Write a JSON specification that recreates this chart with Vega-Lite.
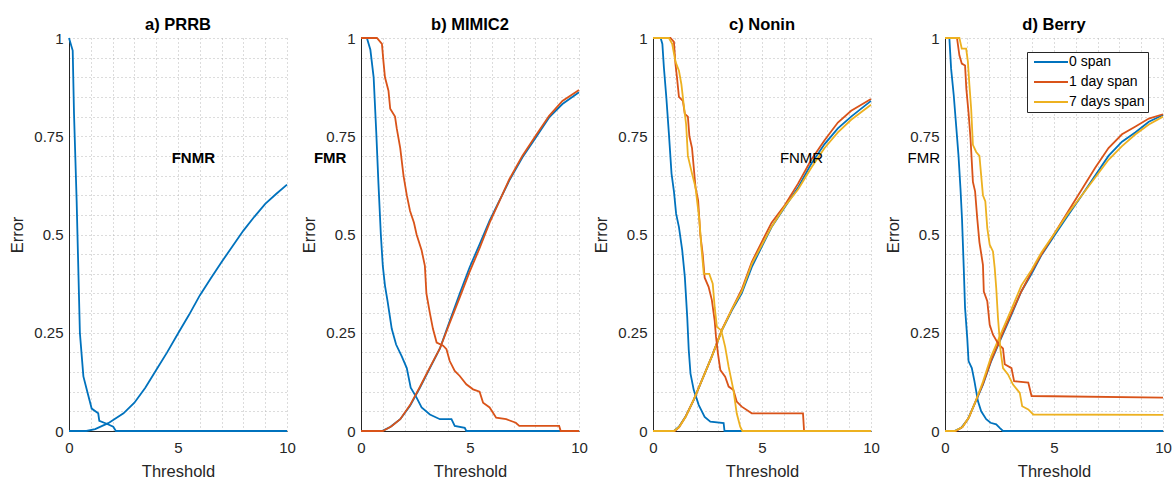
{
"$schema": "https://vega.github.io/schema/vega-lite/v6.json",
"padding": {"left": 9, "top": 16, "right": 5, "bottom": 1},
"background": "#ffffff",
"config": {
  "view": {"stroke": null},
  "axis": {"labelFont": "Liberation Sans", "labelFontSize": 15, "labelColor": "#262626", "titleFont": "Liberation Sans", "titleFontSize": 16.5, "titleFontWeight": "normal", "titleColor": "#262626", "domainColor": "#262626", "domainWidth": 1, "ticks": false, "gridColor": "#b8b8b8", "gridDash": [1, 3], "gridWidth": 1, "labelFlush": false, "labelOverlap": false},
  "title": {"font": "Liberation Sans", "fontSize": 16.5, "fontWeight": "bold", "color": "#000000", "offset": -2, "anchor": "middle"}
},
"datasets": {
"a": [
{"s":"0 span","c":"N","t":0,"e":1},{"s":"0 span","c":"N","t":0.17,"e":0.968},{"s":"0 span","c":"N","t":0.23,"e":0.807},{"s":"0 span","c":"N","t":0.35,"e":0.587},{"s":"0 span","c":"N","t":0.5,"e":0.249},{"s":"0 span","c":"N","t":0.66,"e":0.139},{"s":"0 span","c":"N","t":0.84,"e":0.1},{"s":"0 span","c":"N","t":1.04,"e":0.057},{"s":"0 span","c":"N","t":1.34,"e":0.045},{"s":"0 span","c":"N","t":1.39,"e":0.026},{"s":"0 span","c":"N","t":1.7,"e":0.019},{"s":"0 span","c":"N","t":2.03,"e":0.011},{"s":"0 span","c":"N","t":2.15,"e":0},{"s":"0 span","c":"N","t":10,"e":0},
{"s":"0 span","c":"M","t":0,"e":0},{"s":"0 span","c":"M","t":0.8,"e":0},{"s":"0 span","c":"M","t":1.2,"e":0.005},{"s":"0 span","c":"M","t":1.8,"e":0.02},{"s":"0 span","c":"M","t":2.5,"e":0.045},{"s":"0 span","c":"M","t":3,"e":0.072},{"s":"0 span","c":"M","t":3.5,"e":0.11},{"s":"0 span","c":"M","t":4,"e":0.155},{"s":"0 span","c":"M","t":4.5,"e":0.2},{"s":"0 span","c":"M","t":5,"e":0.248},{"s":"0 span","c":"M","t":5.5,"e":0.295},{"s":"0 span","c":"M","t":6,"e":0.345},{"s":"0 span","c":"M","t":6.5,"e":0.388},{"s":"0 span","c":"M","t":7,"e":0.43},{"s":"0 span","c":"M","t":7.5,"e":0.47},{"s":"0 span","c":"M","t":8,"e":0.51},{"s":"0 span","c":"M","t":8.5,"e":0.545},{"s":"0 span","c":"M","t":9,"e":0.578},{"s":"0 span","c":"M","t":9.5,"e":0.603},{"s":"0 span","c":"M","t":10,"e":0.627}
],
"b": [
{"s":"0 span","c":"N","t":0,"e":1},{"s":"0 span","c":"N","t":0.27,"e":1},{"s":"0 span","c":"N","t":0.43,"e":0.97},{"s":"0 span","c":"N","t":0.58,"e":0.9},{"s":"0 span","c":"N","t":0.7,"e":0.76},{"s":"0 span","c":"N","t":0.8,"e":0.63},{"s":"0 span","c":"N","t":0.91,"e":0.5},{"s":"0 span","c":"N","t":1.0,"e":0.42},{"s":"0 span","c":"N","t":1.1,"e":0.37},{"s":"0 span","c":"N","t":1.22,"e":0.33},{"s":"0 span","c":"N","t":1.41,"e":0.26},{"s":"0 span","c":"N","t":1.61,"e":0.22},{"s":"0 span","c":"N","t":1.87,"e":0.19},{"s":"0 span","c":"N","t":2.1,"e":0.16},{"s":"0 span","c":"N","t":2.28,"e":0.11},{"s":"0 span","c":"N","t":2.55,"e":0.085},{"s":"0 span","c":"N","t":2.78,"e":0.06},{"s":"0 span","c":"N","t":3.16,"e":0.042},{"s":"0 span","c":"N","t":3.62,"e":0.03},{"s":"0 span","c":"N","t":4.15,"e":0.03},{"s":"0 span","c":"N","t":4.3,"e":0.013},{"s":"0 span","c":"N","t":4.76,"e":0.008},{"s":"0 span","c":"N","t":4.83,"e":0},{"s":"0 span","c":"N","t":10,"e":0},
{"s":"0 span","c":"M","t":0,"e":0},{"s":"0 span","c":"M","t":0.96,"e":0},{"s":"0 span","c":"M","t":1.34,"e":0.01},{"s":"0 span","c":"M","t":1.8,"e":0.03},{"s":"0 span","c":"M","t":2.25,"e":0.064},{"s":"0 span","c":"M","t":2.7,"e":0.11},{"s":"0 span","c":"M","t":3.16,"e":0.16},{"s":"0 span","c":"M","t":3.62,"e":0.21},{"s":"0 span","c":"M","t":4.07,"e":0.28},{"s":"0 span","c":"M","t":4.53,"e":0.35},{"s":"0 span","c":"M","t":4.98,"e":0.416},{"s":"0 span","c":"M","t":5.44,"e":0.475},{"s":"0 span","c":"M","t":5.9,"e":0.535},{"s":"0 span","c":"M","t":6.35,"e":0.586},{"s":"0 span","c":"M","t":6.8,"e":0.637},{"s":"0 span","c":"M","t":7.4,"e":0.696},{"s":"0 span","c":"M","t":8.02,"e":0.747},{"s":"0 span","c":"M","t":8.63,"e":0.798},{"s":"0 span","c":"M","t":9.24,"e":0.832},{"s":"0 span","c":"M","t":10,"e":0.862},
{"s":"1 day span","c":"M","t":0,"e":0},{"s":"1 day span","c":"M","t":1.0,"e":0},{"s":"1 day span","c":"M","t":1.4,"e":0.012},{"s":"1 day span","c":"M","t":1.8,"e":0.03},{"s":"1 day span","c":"M","t":2.25,"e":0.066},{"s":"1 day span","c":"M","t":2.7,"e":0.112},{"s":"1 day span","c":"M","t":3.16,"e":0.162},{"s":"1 day span","c":"M","t":3.62,"e":0.21},{"s":"1 day span","c":"M","t":4.07,"e":0.275},{"s":"1 day span","c":"M","t":4.53,"e":0.34},{"s":"1 day span","c":"M","t":4.98,"e":0.405},{"s":"1 day span","c":"M","t":5.44,"e":0.465},{"s":"1 day span","c":"M","t":5.9,"e":0.53},{"s":"1 day span","c":"M","t":6.35,"e":0.585},{"s":"1 day span","c":"M","t":6.8,"e":0.64},{"s":"1 day span","c":"M","t":7.4,"e":0.7},{"s":"1 day span","c":"M","t":8.02,"e":0.752},{"s":"1 day span","c":"M","t":8.63,"e":0.802},{"s":"1 day span","c":"M","t":9.24,"e":0.84},{"s":"1 day span","c":"M","t":10,"e":0.868},
{"s":"1 day span","c":"N","t":0,"e":1},{"s":"1 day span","c":"N","t":0.73,"e":1},{"s":"1 day span","c":"N","t":0.96,"e":0.985},{"s":"1 day span","c":"N","t":1.03,"e":0.94},{"s":"1 day span","c":"N","t":1.1,"e":0.9},{"s":"1 day span","c":"N","t":1.26,"e":0.866},{"s":"1 day span","c":"N","t":1.34,"e":0.82},{"s":"1 day span","c":"N","t":1.56,"e":0.8},{"s":"1 day span","c":"N","t":1.64,"e":0.77},{"s":"1 day span","c":"N","t":1.8,"e":0.72},{"s":"1 day span","c":"N","t":1.95,"e":0.65},{"s":"1 day span","c":"N","t":2.1,"e":0.6},{"s":"1 day span","c":"N","t":2.25,"e":0.56},{"s":"1 day span","c":"N","t":2.43,"e":0.53},{"s":"1 day span","c":"N","t":2.55,"e":0.5},{"s":"1 day span","c":"N","t":2.78,"e":0.46},{"s":"1 day span","c":"N","t":2.93,"e":0.42},{"s":"1 day span","c":"N","t":3.0,"e":0.35},{"s":"1 day span","c":"N","t":3.16,"e":0.3},{"s":"1 day span","c":"N","t":3.3,"e":0.26},{"s":"1 day span","c":"N","t":3.47,"e":0.225},{"s":"1 day span","c":"N","t":3.77,"e":0.217},{"s":"1 day span","c":"N","t":3.92,"e":0.208},{"s":"1 day span","c":"N","t":4.07,"e":0.178},{"s":"1 day span","c":"N","t":4.3,"e":0.153},{"s":"1 day span","c":"N","t":4.53,"e":0.14},{"s":"1 day span","c":"N","t":4.83,"e":0.119},{"s":"1 day span","c":"N","t":5.14,"e":0.106},{"s":"1 day span","c":"N","t":5.44,"e":0.1},{"s":"1 day span","c":"N","t":5.6,"e":0.072},{"s":"1 day span","c":"N","t":5.9,"e":0.06},{"s":"1 day span","c":"N","t":6.2,"e":0.034},{"s":"1 day span","c":"N","t":6.66,"e":0.03},{"s":"1 day span","c":"N","t":7.1,"e":0.021},{"s":"1 day span","c":"N","t":7.26,"e":0.013},{"s":"1 day span","c":"N","t":9.09,"e":0.013},{"s":"1 day span","c":"N","t":9.16,"e":0},{"s":"1 day span","c":"N","t":10,"e":0}
],
"c": [
{"s":"0 span","c":"N","t":0,"e":1},{"s":"0 span","c":"N","t":0.35,"e":1},{"s":"0 span","c":"N","t":0.43,"e":0.985},{"s":"0 span","c":"N","t":0.5,"e":0.925},{"s":"0 span","c":"N","t":0.61,"e":0.85},{"s":"0 span","c":"N","t":0.73,"e":0.756},{"s":"0 span","c":"N","t":0.85,"e":0.655},{"s":"0 span","c":"N","t":0.96,"e":0.61},{"s":"0 span","c":"N","t":1.06,"e":0.553},{"s":"0 span","c":"N","t":1.19,"e":0.519},{"s":"0 span","c":"N","t":1.34,"e":0.46},{"s":"0 span","c":"N","t":1.46,"e":0.392},{"s":"0 span","c":"N","t":1.57,"e":0.29},{"s":"0 span","c":"N","t":1.64,"e":0.206},{"s":"0 span","c":"N","t":1.72,"e":0.146},{"s":"0 span","c":"N","t":1.87,"e":0.104},{"s":"0 span","c":"N","t":2.1,"e":0.066},{"s":"0 span","c":"N","t":2.37,"e":0.036},{"s":"0 span","c":"N","t":2.63,"e":0.024},{"s":"0 span","c":"N","t":3.24,"e":0.02},{"s":"0 span","c":"N","t":3.28,"e":0},{"s":"0 span","c":"N","t":10,"e":0},
{"s":"0 span","c":"M","t":0,"e":0},{"s":"0 span","c":"M","t":0.96,"e":0},{"s":"0 span","c":"M","t":1.19,"e":0.011},{"s":"0 span","c":"M","t":1.49,"e":0.036},{"s":"0 span","c":"M","t":1.87,"e":0.079},{"s":"0 span","c":"M","t":2.25,"e":0.13},{"s":"0 span","c":"M","t":2.7,"e":0.19},{"s":"0 span","c":"M","t":3.16,"e":0.256},{"s":"0 span","c":"M","t":3.62,"e":0.307},{"s":"0 span","c":"M","t":4.07,"e":0.35},{"s":"0 span","c":"M","t":4.53,"e":0.417},{"s":"0 span","c":"M","t":4.98,"e":0.468},{"s":"0 span","c":"M","t":5.44,"e":0.519},{"s":"0 span","c":"M","t":6.05,"e":0.57},{"s":"0 span","c":"M","t":6.66,"e":0.62},{"s":"0 span","c":"M","t":7.26,"e":0.68},{"s":"0 span","c":"M","t":7.87,"e":0.73},{"s":"0 span","c":"M","t":8.48,"e":0.77},{"s":"0 span","c":"M","t":9.09,"e":0.8},{"s":"0 span","c":"M","t":10,"e":0.84},
{"s":"1 day span","c":"M","t":0,"e":0},{"s":"1 day span","c":"M","t":1.0,"e":0},{"s":"1 day span","c":"M","t":1.2,"e":0.01},{"s":"1 day span","c":"M","t":1.5,"e":0.037},{"s":"1 day span","c":"M","t":1.87,"e":0.08},{"s":"1 day span","c":"M","t":2.25,"e":0.13},{"s":"1 day span","c":"M","t":2.7,"e":0.19},{"s":"1 day span","c":"M","t":3.16,"e":0.258},{"s":"1 day span","c":"M","t":3.62,"e":0.31},{"s":"1 day span","c":"M","t":4.07,"e":0.36},{"s":"1 day span","c":"M","t":4.53,"e":0.43},{"s":"1 day span","c":"M","t":4.98,"e":0.48},{"s":"1 day span","c":"M","t":5.44,"e":0.53},{"s":"1 day span","c":"M","t":6.05,"e":0.575},{"s":"1 day span","c":"M","t":6.66,"e":0.63},{"s":"1 day span","c":"M","t":7.26,"e":0.69},{"s":"1 day span","c":"M","t":7.87,"e":0.74},{"s":"1 day span","c":"M","t":8.48,"e":0.785},{"s":"1 day span","c":"M","t":9.09,"e":0.815},{"s":"1 day span","c":"M","t":10,"e":0.845},
{"s":"7 days span","c":"M","t":0,"e":0},{"s":"7 days span","c":"M","t":0.96,"e":0},{"s":"7 days span","c":"M","t":1.2,"e":0.01},{"s":"7 days span","c":"M","t":1.5,"e":0.036},{"s":"7 days span","c":"M","t":1.87,"e":0.08},{"s":"7 days span","c":"M","t":2.25,"e":0.13},{"s":"7 days span","c":"M","t":2.7,"e":0.19},{"s":"7 days span","c":"M","t":3.16,"e":0.256},{"s":"7 days span","c":"M","t":3.62,"e":0.31},{"s":"7 days span","c":"M","t":4.07,"e":0.355},{"s":"7 days span","c":"M","t":4.53,"e":0.425},{"s":"7 days span","c":"M","t":4.98,"e":0.472},{"s":"7 days span","c":"M","t":5.44,"e":0.52},{"s":"7 days span","c":"M","t":6.05,"e":0.572},{"s":"7 days span","c":"M","t":6.66,"e":0.615},{"s":"7 days span","c":"M","t":7.26,"e":0.67},{"s":"7 days span","c":"M","t":7.87,"e":0.72},{"s":"7 days span","c":"M","t":8.48,"e":0.76},{"s":"7 days span","c":"M","t":9.09,"e":0.792},{"s":"7 days span","c":"M","t":10,"e":0.83},
{"s":"1 day span","c":"N","t":0,"e":1},{"s":"1 day span","c":"N","t":0.8,"e":1},{"s":"1 day span","c":"N","t":0.96,"e":0.99},{"s":"1 day span","c":"N","t":1.03,"e":0.934},{"s":"1 day span","c":"N","t":1.1,"e":0.9},{"s":"1 day span","c":"N","t":1.19,"e":0.85},{"s":"1 day span","c":"N","t":1.37,"e":0.84},{"s":"1 day span","c":"N","t":1.46,"e":0.807},{"s":"1 day span","c":"N","t":1.6,"e":0.8},{"s":"1 day span","c":"N","t":1.67,"e":0.75},{"s":"1 day span","c":"N","t":1.79,"e":0.72},{"s":"1 day span","c":"N","t":1.87,"e":0.67},{"s":"1 day span","c":"N","t":1.95,"e":0.62},{"s":"1 day span","c":"N","t":2.07,"e":0.587},{"s":"1 day span","c":"N","t":2.17,"e":0.5},{"s":"1 day span","c":"N","t":2.28,"e":0.45},{"s":"1 day span","c":"N","t":2.37,"e":0.39},{"s":"1 day span","c":"N","t":2.55,"e":0.367},{"s":"1 day span","c":"N","t":2.7,"e":0.333},{"s":"1 day span","c":"N","t":2.83,"e":0.28},{"s":"1 day span","c":"N","t":2.89,"e":0.24},{"s":"1 day span","c":"N","t":2.98,"e":0.197},{"s":"1 day span","c":"N","t":3.09,"e":0.155},{"s":"1 day span","c":"N","t":3.31,"e":0.138},{"s":"1 day span","c":"N","t":3.47,"e":0.113},{"s":"1 day span","c":"N","t":3.69,"e":0.104},{"s":"1 day span","c":"N","t":3.84,"e":0.075},{"s":"1 day span","c":"N","t":4.07,"e":0.062},{"s":"1 day span","c":"N","t":4.53,"e":0.045},{"s":"1 day span","c":"N","t":6.88,"e":0.045},{"s":"1 day span","c":"N","t":6.93,"e":0},{"s":"1 day span","c":"N","t":10,"e":0},
{"s":"7 days span","c":"N","t":0,"e":1},{"s":"7 days span","c":"N","t":0.73,"e":1},{"s":"7 days span","c":"N","t":0.88,"e":0.985},{"s":"7 days span","c":"N","t":1.03,"e":0.94},{"s":"7 days span","c":"N","t":1.19,"e":0.917},{"s":"7 days span","c":"N","t":1.3,"e":0.883},{"s":"7 days span","c":"N","t":1.41,"e":0.83},{"s":"7 days span","c":"N","t":1.52,"e":0.78},{"s":"7 days span","c":"N","t":1.6,"e":0.7},{"s":"7 days span","c":"N","t":1.79,"e":0.655},{"s":"7 days span","c":"N","t":1.95,"e":0.62},{"s":"7 days span","c":"N","t":2.02,"e":0.587},{"s":"7 days span","c":"N","t":2.13,"e":0.536},{"s":"7 days span","c":"N","t":2.22,"e":0.468},{"s":"7 days span","c":"N","t":2.33,"e":0.4},{"s":"7 days span","c":"N","t":2.58,"e":0.4},{"s":"7 days span","c":"N","t":2.74,"e":0.375},{"s":"7 days span","c":"N","t":2.83,"e":0.315},{"s":"7 days span","c":"N","t":2.93,"e":0.265},{"s":"7 days span","c":"N","t":3.13,"e":0.256},{"s":"7 days span","c":"N","t":3.31,"e":0.214},{"s":"7 days span","c":"N","t":3.47,"e":0.163},{"s":"7 days span","c":"N","t":3.69,"e":0.104},{"s":"7 days span","c":"N","t":3.84,"e":0.045},{"s":"7 days span","c":"N","t":4.0,"e":0.011},{"s":"7 days span","c":"N","t":4.1,"e":0},{"s":"7 days span","c":"N","t":10,"e":0}
],
"d": [
{"s":"0 span","c":"N","t":0,"e":1},{"s":"0 span","c":"N","t":0.2,"e":1},{"s":"0 span","c":"N","t":0.28,"e":0.922},{"s":"0 span","c":"N","t":0.4,"e":0.855},{"s":"0 span","c":"N","t":0.51,"e":0.778},{"s":"0 span","c":"N","t":0.62,"e":0.7},{"s":"0 span","c":"N","t":0.71,"e":0.617},{"s":"0 span","c":"N","t":0.78,"e":0.54},{"s":"0 span","c":"N","t":0.86,"e":0.415},{"s":"0 span","c":"N","t":0.92,"e":0.313},{"s":"0 span","c":"N","t":1.02,"e":0.237},{"s":"0 span","c":"N","t":1.08,"e":0.178},{"s":"0 span","c":"N","t":1.23,"e":0.16},{"s":"0 span","c":"N","t":1.35,"e":0.127},{"s":"0 span","c":"N","t":1.51,"e":0.076},{"s":"0 span","c":"N","t":1.66,"e":0.05},{"s":"0 span","c":"N","t":1.89,"e":0.03},{"s":"0 span","c":"N","t":2.09,"e":0.021},{"s":"0 span","c":"N","t":2.35,"e":0.017},{"s":"0 span","c":"N","t":2.51,"e":0.008},{"s":"0 span","c":"N","t":2.66,"e":0},{"s":"0 span","c":"N","t":10,"e":0},
{"s":"0 span","c":"M","t":0,"e":0},{"s":"0 span","c":"M","t":0.43,"e":0},{"s":"0 span","c":"M","t":0.74,"e":0.008},{"s":"0 span","c":"M","t":1.05,"e":0.03},{"s":"0 span","c":"M","t":1.35,"e":0.068},{"s":"0 span","c":"M","t":1.74,"e":0.118},{"s":"0 span","c":"M","t":2.12,"e":0.178},{"s":"0 span","c":"M","t":2.58,"e":0.237},{"s":"0 span","c":"M","t":3.05,"e":0.296},{"s":"0 span","c":"M","t":3.5,"e":0.355},{"s":"0 span","c":"M","t":3.97,"e":0.4},{"s":"0 span","c":"M","t":4.43,"e":0.448},{"s":"0 span","c":"M","t":5.05,"e":0.5},{"s":"0 span","c":"M","t":5.66,"e":0.55},{"s":"0 span","c":"M","t":6.28,"e":0.6},{"s":"0 span","c":"M","t":6.89,"e":0.65},{"s":"0 span","c":"M","t":7.5,"e":0.7},{"s":"0 span","c":"M","t":8.12,"e":0.736},{"s":"0 span","c":"M","t":8.74,"e":0.76},{"s":"0 span","c":"M","t":9.35,"e":0.787},{"s":"0 span","c":"M","t":10,"e":0.804},
{"s":"1 day span","c":"M","t":0,"e":0},{"s":"1 day span","c":"M","t":0.5,"e":0},{"s":"1 day span","c":"M","t":0.8,"e":0.01},{"s":"1 day span","c":"M","t":1.1,"e":0.035},{"s":"1 day span","c":"M","t":1.4,"e":0.075},{"s":"1 day span","c":"M","t":1.74,"e":0.12},{"s":"1 day span","c":"M","t":2.12,"e":0.18},{"s":"1 day span","c":"M","t":2.58,"e":0.24},{"s":"1 day span","c":"M","t":3.05,"e":0.3},{"s":"1 day span","c":"M","t":3.5,"e":0.355},{"s":"1 day span","c":"M","t":3.97,"e":0.405},{"s":"1 day span","c":"M","t":4.43,"e":0.45},{"s":"1 day span","c":"M","t":5.05,"e":0.505},{"s":"1 day span","c":"M","t":5.66,"e":0.56},{"s":"1 day span","c":"M","t":6.28,"e":0.615},{"s":"1 day span","c":"M","t":6.89,"e":0.67},{"s":"1 day span","c":"M","t":7.5,"e":0.72},{"s":"1 day span","c":"M","t":8.12,"e":0.755},{"s":"1 day span","c":"M","t":8.74,"e":0.775},{"s":"1 day span","c":"M","t":9.35,"e":0.795},{"s":"1 day span","c":"M","t":10,"e":0.806},
{"s":"7 days span","c":"M","t":0,"e":0},{"s":"7 days span","c":"M","t":0.45,"e":0},{"s":"7 days span","c":"M","t":0.8,"e":0.01},{"s":"7 days span","c":"M","t":1.1,"e":0.035},{"s":"7 days span","c":"M","t":1.4,"e":0.075},{"s":"7 days span","c":"M","t":1.74,"e":0.125},{"s":"7 days span","c":"M","t":2.12,"e":0.19},{"s":"7 days span","c":"M","t":2.58,"e":0.25},{"s":"7 days span","c":"M","t":3.05,"e":0.31},{"s":"7 days span","c":"M","t":3.5,"e":0.37},{"s":"7 days span","c":"M","t":3.97,"e":0.41},{"s":"7 days span","c":"M","t":4.43,"e":0.455},{"s":"7 days span","c":"M","t":5.05,"e":0.505},{"s":"7 days span","c":"M","t":5.66,"e":0.555},{"s":"7 days span","c":"M","t":6.28,"e":0.6},{"s":"7 days span","c":"M","t":6.89,"e":0.645},{"s":"7 days span","c":"M","t":7.5,"e":0.69},{"s":"7 days span","c":"M","t":8.12,"e":0.725},{"s":"7 days span","c":"M","t":8.74,"e":0.755},{"s":"7 days span","c":"M","t":9.35,"e":0.78},{"s":"7 days span","c":"M","t":10,"e":0.8},
{"s":"1 day span","c":"N","t":0,"e":1},{"s":"1 day span","c":"N","t":0.55,"e":1},{"s":"1 day span","c":"N","t":0.66,"e":0.956},{"s":"1 day span","c":"N","t":0.77,"e":0.935},{"s":"1 day span","c":"N","t":0.92,"e":0.93},{"s":"1 day span","c":"N","t":0.98,"e":0.87},{"s":"1 day span","c":"N","t":1.08,"e":0.81},{"s":"1 day span","c":"N","t":1.17,"e":0.745},{"s":"1 day span","c":"N","t":1.28,"e":0.634},{"s":"1 day span","c":"N","t":1.38,"e":0.61},{"s":"1 day span","c":"N","t":1.48,"e":0.54},{"s":"1 day span","c":"N","t":1.58,"e":0.48},{"s":"1 day span","c":"N","t":1.74,"e":0.423},{"s":"1 day span","c":"N","t":1.78,"e":0.355},{"s":"1 day span","c":"N","t":1.94,"e":0.33},{"s":"1 day span","c":"N","t":2.05,"e":0.27},{"s":"1 day span","c":"N","t":2.2,"e":0.245},{"s":"1 day span","c":"N","t":2.46,"e":0.22},{"s":"1 day span","c":"N","t":2.66,"e":0.21},{"s":"1 day span","c":"N","t":2.74,"e":0.17},{"s":"1 day span","c":"N","t":3.05,"e":0.16},{"s":"1 day span","c":"N","t":3.17,"e":0.127},{"s":"1 day span","c":"N","t":3.82,"e":0.123},{"s":"1 day span","c":"N","t":3.97,"e":0.089},{"s":"1 day span","c":"N","t":10,"e":0.085},
{"s":"7 days span","c":"N","t":0,"e":1},{"s":"7 days span","c":"N","t":0.66,"e":1},{"s":"7 days span","c":"N","t":0.77,"e":0.973},{"s":"7 days span","c":"N","t":0.97,"e":0.973},{"s":"7 days span","c":"N","t":1.05,"e":0.94},{"s":"7 days span","c":"N","t":1.12,"e":0.88},{"s":"7 days span","c":"N","t":1.2,"e":0.82},{"s":"7 days span","c":"N","t":1.28,"e":0.728},{"s":"7 days span","c":"N","t":1.43,"e":0.71},{"s":"7 days span","c":"N","t":1.58,"e":0.7},{"s":"7 days span","c":"N","t":1.66,"e":0.65},{"s":"7 days span","c":"N","t":1.74,"e":0.6},{"s":"7 days span","c":"N","t":1.85,"e":0.584},{"s":"7 days span","c":"N","t":1.94,"e":0.516},{"s":"7 days span","c":"N","t":2.05,"e":0.474},{"s":"7 days span","c":"N","t":2.2,"e":0.457},{"s":"7 days span","c":"N","t":2.28,"e":0.415},{"s":"7 days span","c":"N","t":2.35,"e":0.364},{"s":"7 days span","c":"N","t":2.43,"e":0.288},{"s":"7 days span","c":"N","t":2.55,"e":0.203},{"s":"7 days span","c":"N","t":2.66,"e":0.16},{"s":"7 days span","c":"N","t":2.89,"e":0.144},{"s":"7 days span","c":"N","t":3.12,"e":0.118},{"s":"7 days span","c":"N","t":3.43,"e":0.097},{"s":"7 days span","c":"N","t":3.54,"e":0.063},{"s":"7 days span","c":"N","t":3.82,"e":0.055},{"s":"7 days span","c":"N","t":4.05,"e":0.042},{"s":"7 days span","c":"N","t":10,"e":0.041}
]
},
"hconcat": [
{
 "width": 218, "height": 393,
 "title": "a) PRRB",
 "encoding": {
  "x": {"field": "t", "type": "quantitative", "scale": {"domain": [0, 10], "nice": false}, "axis": {"title": "Threshold", "values": [0,1,2,3,4,5,6,7,8,9,10], "labelExpr": "datum.value % 5 == 0 ? datum.label : ''", "format": "d", "labelPadding": 9, "titlePadding": 8}},
  "y": {"field": "e", "type": "quantitative", "scale": {"domain": [0, 1], "nice": false}, "axis": {"title": "Error", "values": [0,0.05,0.1,0.15,0.2,0.25,0.3,0.35,0.4,0.45,0.5,0.55,0.6,0.65,0.7,0.75,0.8,0.85,0.9,0.95,1], "labelExpr": "abs(datum.value*4-round(datum.value*4))<0.001 ? datum.label : ''", "format": "~r", "labelPadding": 6, "titlePadding": 8}}
 },
 "layer": [
  {"data": {"name": "a"}, "mark": {"type": "line", "strokeWidth": 1.8}, "encoding": {"color": {"field": "s", "type": "nominal", "scale": {"domain": ["0 span", "1 day span", "7 days span"], "range": ["#0072BD", "#D95319", "#EDB120"]}, "legend": null}, "detail": {"field": "c"}}},
  {"data": {"values": [{"t": 4.71, "e": 0.695, "label": "FNMR"}]}, "mark": {"type": "text", "align": "left", "baseline": "middle", "font": "Liberation Sans", "fontSize": 15, "fontWeight": "bold", "color": "#000000"}, "encoding": {"text": {"field": "label"}}}
 ]
},
{
 "width": 218, "height": 393,
 "title": "b) MIMIC2",
 "encoding": {
  "x": {"field": "t", "type": "quantitative", "scale": {"domain": [0, 10], "nice": false}, "axis": {"title": "Threshold", "values": [0,1,2,3,4,5,6,7,8,9,10], "labelExpr": "datum.value % 5 == 0 ? datum.label : ''", "format": "d", "labelPadding": 9, "titlePadding": 8}},
  "y": {"field": "e", "type": "quantitative", "scale": {"domain": [0, 1], "nice": false}, "axis": {"title": "Error", "values": [0,0.05,0.1,0.15,0.2,0.25,0.3,0.35,0.4,0.45,0.5,0.55,0.6,0.65,0.7,0.75,0.8,0.85,0.9,0.95,1], "labelExpr": "abs(datum.value*4-round(datum.value*4))<0.001 ? datum.label : ''", "format": "~r", "labelPadding": 6, "titlePadding": 8}}
 },
 "layer": [
  {"data": {"name": "b"}, "mark": {"type": "line", "strokeWidth": 1.8}, "encoding": {"color": {"field": "s", "type": "nominal", "scale": {"domain": ["0 span", "1 day span", "7 days span"], "range": ["#0072BD", "#D95319", "#EDB120"]}, "legend": null}, "detail": {"field": "c"}}},
  {"data": {"values": [{"t": -2.16, "e": 0.695, "label": "FMR"}]}, "mark": {"type": "text", "align": "left", "baseline": "middle", "font": "Liberation Sans", "fontSize": 15, "fontWeight": "bold", "color": "#000000"}, "encoding": {"text": {"field": "label"}}}
 ]
},
{
 "width": 218, "height": 393,
 "title": "c) Nonin",
 "encoding": {
  "x": {"field": "t", "type": "quantitative", "scale": {"domain": [0, 10], "nice": false}, "axis": {"title": "Threshold", "values": [0,1,2,3,4,5,6,7,8,9,10], "labelExpr": "datum.value % 5 == 0 ? datum.label : ''", "format": "d", "labelPadding": 9, "titlePadding": 8}},
  "y": {"field": "e", "type": "quantitative", "scale": {"domain": [0, 1], "nice": false}, "axis": {"title": "Error", "values": [0,0.05,0.1,0.15,0.2,0.25,0.3,0.35,0.4,0.45,0.5,0.55,0.6,0.65,0.7,0.75,0.8,0.85,0.9,0.95,1], "labelExpr": "abs(datum.value*4-round(datum.value*4))<0.001 ? datum.label : ''", "format": "~r", "labelPadding": 6, "titlePadding": 8}}
 },
 "layer": [
  {"data": {"name": "c"}, "mark": {"type": "line", "strokeWidth": 1.8}, "encoding": {"color": {"field": "s", "type": "nominal", "scale": {"domain": ["0 span", "1 day span", "7 days span"], "range": ["#0072BD", "#D95319", "#EDB120"]}, "legend": null}, "detail": {"field": "c"}}},
  {"data": {"values": [{"t": 5.82, "e": 0.695, "label": "FNMR"}]}, "mark": {"type": "text", "align": "left", "baseline": "middle", "font": "Liberation Sans", "fontSize": 15, "fontWeight": "normal", "color": "#000000"}, "encoding": {"text": {"field": "label"}}}
 ]
},
{
 "width": 218, "height": 393,
 "title": "d) Berry",
 "encoding": {
  "x": {"field": "t", "type": "quantitative", "scale": {"domain": [0, 10], "nice": false}, "axis": {"title": "Threshold", "values": [0,1,2,3,4,5,6,7,8,9,10], "labelExpr": "datum.value % 5 == 0 ? datum.label : ''", "format": "d", "labelPadding": 9, "titlePadding": 8}},
  "y": {"field": "e", "type": "quantitative", "scale": {"domain": [0, 1], "nice": false}, "axis": {"title": "Error", "values": [0,0.05,0.1,0.15,0.2,0.25,0.3,0.35,0.4,0.45,0.5,0.55,0.6,0.65,0.7,0.75,0.8,0.85,0.9,0.95,1], "labelExpr": "abs(datum.value*4-round(datum.value*4))<0.001 ? datum.label : ''", "format": "~r", "labelPadding": 6, "titlePadding": 8}}
 },
 "layer": [
  {"data": {"name": "d"}, "mark": {"type": "line", "strokeWidth": 1.8}, "encoding": {"color": {"field": "s", "type": "nominal", "scale": {"domain": ["0 span", "1 day span", "7 days span"], "range": ["#0072BD", "#D95319", "#EDB120"]}, "legend": {"orient": "none", "legendX": 82, "legendY": 14, "title": null, "symbolType": "M-3.4,0H3.4", "symbolSize": 100, "symbolStrokeWidth": 2, "symbolOffset": 14, "labelFont": "Liberation Sans", "labelFontSize": 14, "labelColor": "#000000", "labelOffset": 11, "strokeColor": "#262626", "fillColor": "#ffffff", "padding": 3, "rowPadding": 6, "cornerRadius": 0}}, "detail": {"field": "c"}}},
  {"data": {"values": [{"t": -1.72, "e": 0.695, "label": "FMR"}]}, "mark": {"type": "text", "align": "left", "baseline": "middle", "font": "Liberation Sans", "fontSize": 15, "fontWeight": "normal", "color": "#000000"}, "encoding": {"text": {"field": "label"}}}
 ]
}
],
"spacing": 74,
"bounds": "flush",
"resolve": {"scale": {"color": "independent"}, "legend": {"color": "independent"}}
}
